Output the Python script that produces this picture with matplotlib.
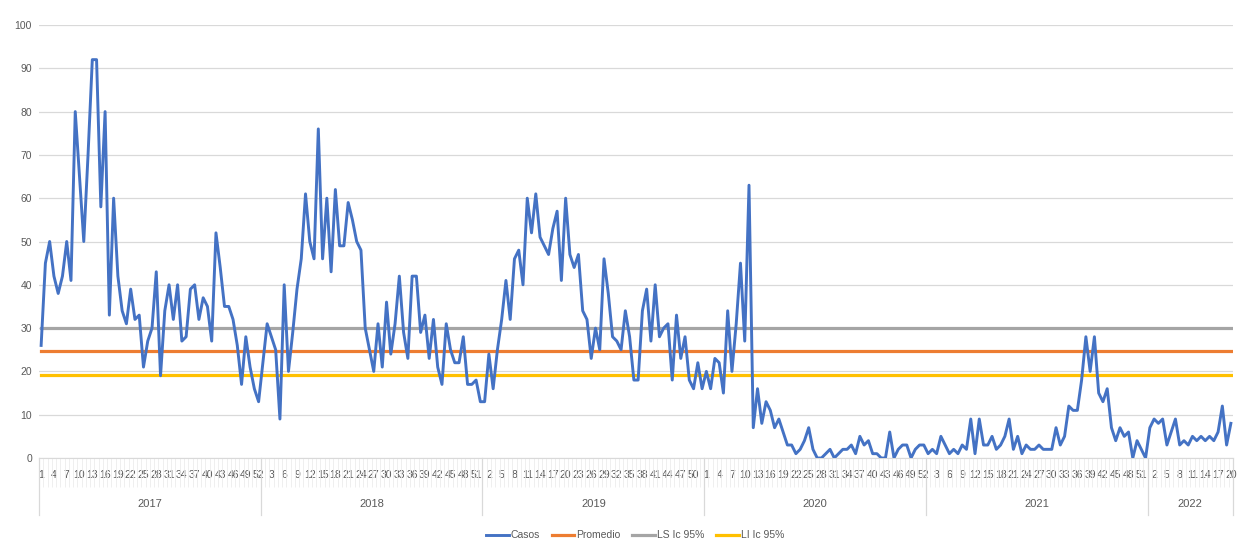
import numpy as np
import matplotlib
matplotlib.use("Agg")
import matplotlib.pyplot as plt
import matplotlib.transforms as mtransforms

# weekly cases, 2017 week 1 .. 2022 week 20
casos_2017 = [26, 45, 50, 42, 38, 42, 50, 41, 80, 65, 50, 70, 92, 92, 58, 80, 33, 60, 42, 34,
              31, 39, 32, 33, 21, 27, 30, 43, 19, 34, 40, 32, 40, 27, 28, 39, 40, 32, 37, 35,
              27, 52, 44, 35, 35, 32, 26, 17, 28, 21, 16, 13]
casos_2018 = [22, 31, 28, 25, 9, 40, 20, 29, 39, 46, 61, 50, 46, 76, 46, 60, 43, 62, 49, 49,
              59, 55, 50, 48, 30, 25, 20, 31, 21, 36, 24, 31, 42, 29, 23, 42, 42, 29, 33, 23,
              32, 21, 17, 31, 25, 22, 22, 28, 17, 17, 18, 13]
casos_2019 = [13, 24, 16, 25, 32, 41, 32, 46, 48, 40, 60, 52, 61, 51, 49, 47, 53, 57, 41, 60,
              47, 44, 47, 34, 32, 23, 30, 25, 46, 38, 28, 27, 25, 34, 28, 18, 18, 34, 39, 27,
              40, 28, 30, 31, 18, 33, 23, 28, 18, 16, 22, 16]
casos_2020 = [20, 16, 23, 22, 15, 34, 20, 31, 45, 27, 63, 7, 16, 8, 13, 11, 7, 9, 6, 3,
              3, 1, 2, 4, 7, 2, 0, 0, 1, 2, 0, 1, 2, 2, 3, 1, 5, 3, 4, 1,
              1, 0, 0, 6, 0, 2, 3, 3, 0, 2, 3, 3]
casos_2021 = [1, 2, 1, 5, 3, 1, 2, 1, 3, 2, 9, 1, 9, 3, 3, 5, 2, 3, 5, 9,
              2, 5, 1, 3, 2, 2, 3, 2, 2, 2, 7, 3, 5, 12, 11, 11, 18, 28, 20, 28,
              15, 13, 16, 7, 4, 7, 5, 6, 0, 4, 2, 0]
casos_2022 = [7, 9, 8, 9, 3, 6, 9, 3, 4, 3, 5, 4, 5, 4, 5, 4, 6, 12, 3, 8]

years = ["2017", "2018", "2019", "2020", "2021", "2022"]
promedio = 24.6
ls_ic = 30.0
li_ic = 19.2

series = [casos_2017, casos_2018, casos_2019, casos_2020, casos_2021, casos_2022]
casos = np.concatenate(series)
weeks = np.concatenate([np.arange(1, len(s) + 1) for s in series])
n = len(casos)
x = np.arange(n)

plt.rcParams['font.family'] = ['Liberation Sans Narrow', 'Liberation Sans', 'DejaVu Sans']
txt_color = "#595959"
grid_color = "#d9d9d9"

fig = plt.figure(figsize=(12.38, 5.54), dpi=100)
ax = fig.add_axes([39 / 1238, 1 - 458 / 554, (1233 - 39) / 1238, (458 - 25) / 554])

ax.plot(x, casos, color="#4472C4", lw=2.1, label="Casos", solid_joinstyle="round", zorder=4)
ax.plot(x, np.full(n, promedio), color="#ED7D31", lw=2.3, label="Promedio", zorder=3)
ax.plot(x, np.full(n, ls_ic), color="#A5A5A5", lw=2.3, label="LS Ic 95%", zorder=3)
ax.plot(x, np.full(n, li_ic), color="#FFC000", lw=2.3, label="LI Ic 95%", zorder=3)

ax.set_xlim(-0.5, n - 0.5)
ax.set_ylim(0, 100)
ax.set_yticks(np.arange(0, 101, 10))
ax.yaxis.grid(True, color=grid_color, lw=0.9)
ax.set_axisbelow(True)
for s in ["top", "right", "left"]:
    ax.spines[s].set_visible(False)
ax.spines["bottom"].set_color(grid_color)
ax.tick_params(axis="y", length=0, labelsize=7.5, labelcolor=txt_color, pad=5)

# week labels every 3rd category, faint tick marks between categories
ax.set_xticks(x[::3])
ax.set_xticklabels([str(w) for w in weeks[::3]])
ax.set_xticks(np.arange(-0.5, n, 1), minor=True)
ax.tick_params(axis="x", which="major", length=0, labelsize=7.5, labelcolor=txt_color, pad=9)
ax.tick_params(axis="x", which="minor", length=21, color="#ececec", width=0.6)

# year group labels and separators
trans = mtransforms.blended_transform_factory(ax.transData, ax.transAxes)
start = 0
bounds = [-0.5]
for yr, s in zip(years, series):
    end = start + len(s)
    ax.text((start + end - 1) / 2, -0.106, yr, transform=trans, ha="center", va="center",
            fontsize=8, color=txt_color)
    bounds.append(end - 0.5)
    start = end
for b in bounds:
    ax.plot([b, b], [0, -0.132], transform=trans, color=grid_color, lw=0.9, clip_on=False)

fig.legend(loc="center", bbox_to_anchor=(0.513, 0.034), ncol=4, frameon=False,
           fontsize=7.5, labelcolor=txt_color, handlelength=2.2, columnspacing=1.1,
           handletextpad=0.2)

fig.savefig("out.png", dpi=100)
